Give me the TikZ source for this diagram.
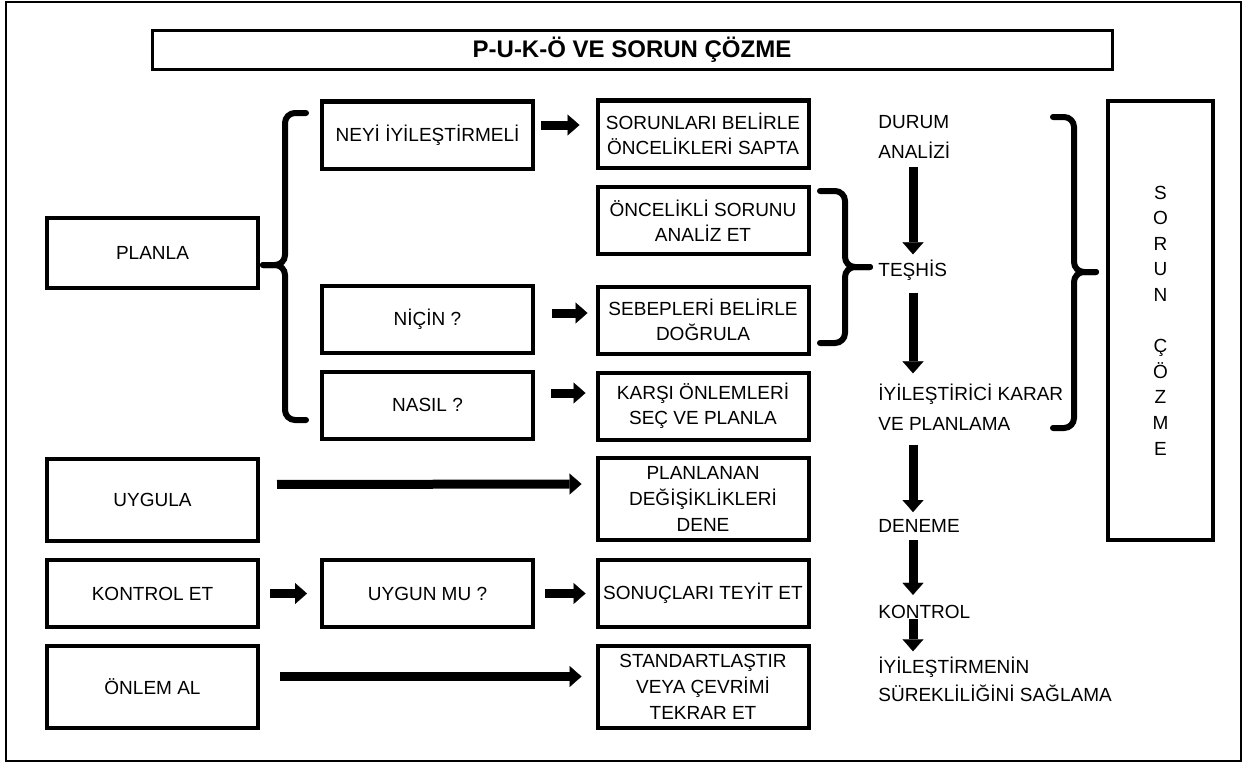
\documentclass[tikz,border=0pt]{standalone}
\usepackage{fontspec}
\setmainfont{Liberation Sans}
\usetikzlibrary{arrows.meta}

\begin{document}
\begin{tikzpicture}[x=0.5pt,y=-0.5pt,
    box/.style={draw,line width=2pt,minimum width=105.5pt,minimum height=33.5pt,
      inner sep=1pt,align=center,font=\fontsize{9.5}{12.5}\selectfont},
    tallbox/.style={box,minimum height=41pt,font=\fontsize{9.5}{13}\selectfont},
    flowtext/.style={anchor=west,inner sep=0pt,align=left,font=\fontsize{9.5}{15}\selectfont},
    bigarrow/.style={line width=4.5pt,-{Triangle[length=6pt,width=10.5pt,line width=0.1pt]}},
    brace/.style={line width=3pt,line cap=round,rounded corners=5pt}]
  \useasboundingbox (0,0) rectangle (1245,765);

  % Frame and title
  \draw[line width=1.2pt] (6,2) rectangle (1241,761);
  \node[draw,line width=1.5pt,minimum width=480pt,minimum height=18pt,
    font=\bfseries\fontsize{12}{14}\selectfont] (title) at (632,50) {P-U-K-Ö VE SORUN ÇÖZME};

  % P-U-K-Ö column
  \node[box,minimum height=35pt] (planla) at (152.5,253) {PLANLA};
  \node[tallbox] (uygula) at (152.5,499.5) {UYGULA};
  \node[box] (kontrolet) at (152.5,593.5) {KONTROL ET};
  \node[tallbox] (onlemal) at (152.5,686.5) {ÖNLEM AL};

  % Questions
  \node[box] (neyi) at (427.5,135) {NEYİ İYİLEŞTİRMELİ};
  \node[box] (nicin) at (427.5,319) {NİÇİN ?};
  \node[box] (nasil) at (427.5,405) {NASIL ?};
  \node[box] (uygunmu) at (427.5,593.5) {UYGUN MU ?};

  % Steps
  \node[box] (sorunlar) at (703,134) {SORUNLARI BELİRLE\\ÖNCELİKLERİ SAPTA};
  \node[box] (oncelikli) at (703,220.5) {ÖNCELİKLİ SORUNU\\ANALİZ ET};
  \node[box] (sebepler) at (703,320) {SEBEPLERİ BELİRLE\\DOĞRULA};
  \node[box] (karsi) at (703,406) {KARŞI ÖNLEMLERİ\\SEÇ VE PLANLA};
  \node[tallbox] (degisiklik) at (703,499) {PLANLANAN\\DEĞİŞİKLİKLERİ\\DENE};
  \node[box] (sonuclar) at (703,593.5) {SONUÇLARI TEYİT ET};
  \node[tallbox] (standart) at (703,686.5) {STANDARTLAŞTIR\\VEYA ÇEVRİMİ\\TEKRAR ET};

  % Problem solving stages
  \node[flowtext] (durum) at (878,137) {DURUM\\ANALİZİ};
  \node[flowtext] (teshis) at (878,270) {TEŞHİS};
  \node[flowtext] (karar) at (878,407) {İYİLEŞTİRİCİ KARAR\\VE PLANLAMA};
  \node[flowtext] (deneme) at (878,526) {DENEME};
  \node[flowtext] (kontrol) at (878,612) {KONTROL};
  \node[flowtext,font=\fontsize{9.5}{14}\selectfont] (sureklilik) at (878,679)
    {İYİLEŞTİRMENİN\\SÜREKLİLİĞİNİ SAĞLAMA};
  \coordinate (flowx) at (913,0);

  \node[draw,line width=2pt,minimum width=52.5pt,minimum height=219.5pt,align=center,
    font=\fontsize{9.5}{12.8}\selectfont] (cozme) at (1160.5,320.5)
    {S\\O\\R\\U\\N\\\mbox{}\\Ç\\Ö\\Z\\M\\E};

  % Horizontal arrows
  \draw[bigarrow,shorten <=3pt,shorten >=8pt] ([yshift=5pt]neyi.east) -- ([yshift=4.5pt]sorunlar.west);
  \draw[bigarrow,shorten <=8.5pt,shorten >=4pt] ([yshift=3pt]nicin.east) -- ([yshift=3.5pt]sebepler.west);
  \draw[bigarrow,shorten <=8pt,shorten >=5pt] ([yshift=6pt]nasil.east) -- ([yshift=6.5pt]karsi.west);
  \draw[bigarrow,shorten <=8.5pt,shorten >=7pt] ([yshift=7.5pt]uygula.east) -- ([yshift=7.5pt]degisiklik.west);
  \draw[bigarrow,shorten <=5pt,shorten >=6.5pt] (kontrolet) -- (uygunmu);
  \draw[bigarrow,shorten <=5pt,shorten >=5pt] (uygunmu) -- (sonuclar);
  \draw[bigarrow,shorten <=10pt,shorten >=7pt] ([yshift=5pt]onlemal.east) -- ([yshift=5pt]standart.west);

  % Vertical arrows
  \draw[bigarrow,shorten <=4pt,shorten >=2.5pt] (durum.south -| flowx) -- (teshis.north -| flowx);
  \draw[bigarrow,shorten <=6pt,shorten >=5pt] (teshis.south -| flowx) -- (karar.north -| flowx);
  \draw[bigarrow,shorten <=7pt,shorten >=3.5pt] (karar.south -| flowx) -- (deneme.north -| flowx);
  \draw[bigarrow,shorten <=3.5pt,shorten >=5pt] (deneme.south -| flowx) -- (kontrol.north -| flowx);
  \draw[bigarrow,shorten >=2.5pt] (kontrol.south -| flowx) -- (sureklilik.north -| flowx);

  % Braces
  \draw[brace] (306,113) -- (285,113) -- (285,265) -- (263,265);
  \draw[brace] (263,265) -- (285,265) -- (285,420) -- (306,420);
  \draw[brace] (820,191) -- (845,191) -- (845,267) -- (870,267);
  \draw[brace] (870,267) -- (845,267) -- (845,343) -- (820,343);
  \draw[brace] (1053,117) -- (1074,117) -- (1074,272) -- (1096,272);
  \draw[brace] (1096,272) -- (1074,272) -- (1074,428) -- (1053,428);
\end{tikzpicture}
\end{document}
